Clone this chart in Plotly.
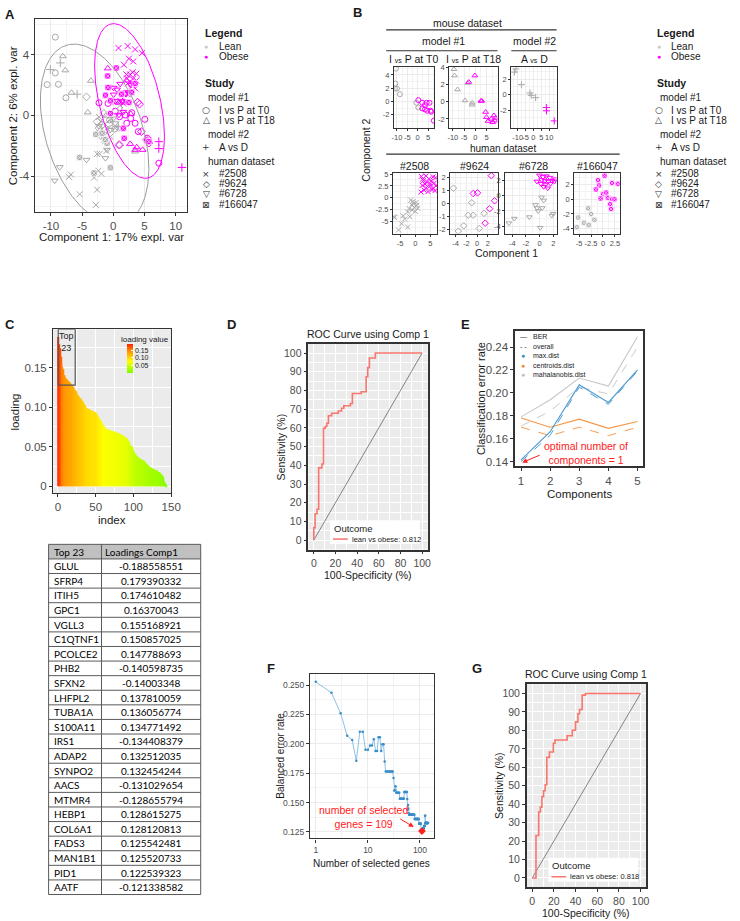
import numpy as np
import plotly.graph_objects as go

W, H = 740, 921
SANS = "Liberation Sans, Arial, sans-serif"
LATO = "Lato, Liberation Sans, sans-serif"
LEAN = "#A9A9A9"
OBESE = "#FF00FF"
INK = "#1A1A1A"
TICK = "#4D4D4D"
FRAME = "#333333"
ROC_RED = "#F8766D"
MIX_BLUE, MIX_ORANGE, MIX_GREY = "#388ECC", "#F68B33", "#C2C2C2"

# ---------------- A: sPLS-DA sample plot, all studies (x, y) ----------------
A_LEAN_T0 = [(-9.3, 5.16), (-10.6, 2.03), (-9.3, 2.8), (-8.8, 2.05), (-7.6, 1.16), (-0.6, -0.3), (0.2, -0.9)]
A_OBESE_T0 = [(-2.3, 0.83), (-0.84, 0.79), (-0.16, 0.94), (0.32, 0.28), (1.0, -0.09), (1.9, 0.02), (2.95, 0.18),
              (2.16, -0.52), (3.5, -0.52), (4.0, -1.07), (5.05, -0.26), (7.3, -3.15), (2.8, -0.2), (5.7, -1.62), (5.4, -1.5)]
A_LEAN_T18 = [(-8.1, 3.9), (-7.7, 2.97), (-6.7, 1.49), (-4.1, 0.2), (-3.6, 2.28), (3.5, -2.38), (-1.2, -0.02)]
A_OBESE_T18 = [(-0.9, 3.1), (0.9, 0.83), (2.8, 0.1), (2.7, -1.88), (3.5, -2.27), (4.7, -2.27), (1.5, 0.85), (3.75, -2.1), (2.1, 2.3)]
A_LEAN_AD = [(-10.1, 3.02), (-8.5, 3.46), (-5.8, 1.4), (1.37, 0.31), (0.8, -0.7)]
A_OBESE_AD = [(7.3, -1.73), (7.3, -2.19), (11.0, -3.43)]
A_LEAN_2508 = [(-2.6, -2.54), (-2.2, -2.54), (-2.4, -3.65), (-1.9, -3.85), (-3.1, -4.1), (-2.6, -4.9), (-5.4, -5.2),
               (-2.8, -5.9), (-6.8, -3.9), (-7.1, -4.05), (-1.1, -2.34), (-1.3, -1.7), (-0.47, -1.4), (-2.0, -0.4),
               (-1.0, -0.85), (0.3, -0.85), (-2.3, -0.1), (1.1, 0.67), (-0.5, -0.3), (-1.5, -1.6)]
A_OBESE_2508 = [(0.84, 4.44), (2.3, 4.57), (3.5, 4.35), (4.6, 4.1), (2.5, 3.74), (3.2, 3.56), (1.7, 3.34), (3.1, 2.84),
                (3.7, 2.75), (2.2, 2.43), (2.3, 2.1), (3.2, 2.1), (3.1, 1.95), (1.3, 1.49), (2.3, 1.4), (1.1, 0.96),
                (1.6, 0.79), (3.7, 2.3), (3.1, 2.4), (2.1, 2.7), (3.5, 1.78), (2.7, 2.7)]
A_LEAN_9624 = [(-4.3, 1.22), (-2.05, -1.07), (-1.5, 0.13), (0.84, -1.95), (-2.6, -0.41), (-1.8, -0.63), (-0.7, -0.57), (-2.3, -0.85)]
A_OBESE_9624 = [(3.9, 0.87), (4.2, 0.74), (5.3, -1.6), (5.7, -1.83), (1.0, -1.95), (4.5, -1.07)]
A_LEAN_6728 = [(-8.6, -3.41), (-9.4, -4.3), (-4.3, -2.93), (-1.26, -2.82), (-1.0, -2.27), (-2.05, -1.4), (-0.5, -0.96),
               (0.3, -0.52), (0.0, -0.2), (-1.5, -1.22), (1.1, -0.85), (-2.3, -0.7)]
A_OBESE_6728 = [(-0.74, 1.84), (0.05, 1.82), (2.05, 1.4), (0.32, 0.94), (0.9, 0.04), (1.4, 0.96), (1.9, 1.49), (2.2, 0.94),
                (3.1, 2.15), (2.8, 2.0), (3.3, 2.1), (1.1, 2.08), (0.6, 1.7), (2.4, 1.53), (1.6, 0.23), (0.05, 1.37)]
A_LEAN_166047 = [(-5.4, -2.77), (-3.1, -3.8), (-0.47, -3.45), (-2.8, -1.25), (-1.0, -1.84), (-1.3, -1.6), (-1.8, -1.18)]
A_OBESE_166047 = [(0.47, 3.13), (-0.9, 2.6), (-0.84, 1.84), (-1.26, 1.33), (-0.47, 0.13), (1.6, -0.85), (1.74, -1.51),
                  (2.5, 0.85), (5.3, -1.62), (5.7, -1.73), (1.3, 1.4), (3.5, 2.1), (-0.47, 0.96), (2.95, 1.53)]
# confidence ellipses: centre x, centre y, x half-range, y half-range, phase (deg)
A_ELLIPSE_LEAN = (-3.0, -1.25, 8.7, 5.95, 112.2)
A_ELLIPSE_OBESE = (2.6, 0.95, 5.6, 5.1, 117.0)

# ---------------- B: per-study sample plots ----------------
B_LEAN_T0 = [(-10.5, 4.96), (-10.8, 2.7), (-11.0, 1.95), (-10.0, 1.95), (-8.6, 1.1), (-0.6, -0.2), (0.3, -0.9)]
B_OBESE_T0 = [(0.3, 0.2), (2.2, -0.2), (3.5, -0.55), (4.3, -0.2), (5.7, -0.2), (2.2, -1.05), (3.5, -1.2), (4.6, -1.4),
              (6.2, -1.4), (6.5, -1.55), (7.8, -2.9)]
B_LEAN_T18 = [(-9.5, 3.8), (-9.25, 3.06), (-7.9, 1.43), (-4.6, 0.15), (-1.36, -0.12), (-1.5, -0.35), (-3.4, 2.2)]
B_OBESE_T18 = [(-0.2, 3.06), (-2.9, 2.3), (2.5, 0.1), (2.9, 0.1), (4.6, -1.2), (5.0, -1.8), (5.7, -2.25), (7.1, -2.0),
               (8.3, -1.6), (9.0, -1.9), (8.7, -2.2), (7.8, -2.4)]
B_LEAN_AD = [(-11.1, 3.3), (-12.0, 2.9), (-7.6, 1.28), (-2.2, 0.2), (-1.4, -0.1), (1.4, -0.4)]
B_OBESE_AD = [(8.2, -1.67), (8.3, -2.1), (13.2, -3.4)]
B_LEAN_2508 = [(-1.5, -0.5), (-0.8, -0.8), (0.3, -1.0), (-1.2, -1.5), (0.5, -1.6), (-0.3, -2.0), (-2.0, -2.3), (-1.0, -2.6),
               (0.0, -2.9), (-2.5, -3.0), (0.8, -2.2), (-3.5, -4.5), (-6.8, -4.2), (-7.0, -4.0), (-4.5, -5.5),
               (-2.5, -6.2), (-5.5, -6.8), (-1.8, -4.0), (-4.0, -3.8), (-0.5, -1.2)]
B_OBESE_2508 = [(2.0, 4.5), (3.5, 4.6), (4.5, 4.0), (5.9, 4.4), (6.7, 4.2), (2.7, 3.6), (4.0, 3.3), (5.2, 3.5), (6.3, 3.1),
                (2.3, 2.6), (3.6, 2.1), (4.8, 2.4), (6.0, 2.0), (6.8, 2.5), (2.9, 1.6), (4.2, 1.3), (5.5, 1.7), (1.9, 1.2),
                (3.2, 2.9), (5.0, 2.9), (6.5, 1.5), (2.4, 3.9)]
B_LEAN_9624 = [(-4.4, 1.15), (-1.0, 0.05), (-1.65, -0.9), (-0.73, -0.9), (1.28, -0.75), (-2.5, -1.7), (0.4, -1.9), (-3.5, -2.1)]
B_OBESE_9624 = [(2.64, 2.1), (-0.73, 0.75), (0.07, 0.8), (3.25, 0.2), (2.33, -0.4), (1.5, -1.5)]
B_LEAN_6728 = [(0.3, -0.2), (0.6, -0.6), (-0.6, -1.2), (-0.4, -1.6), (0.4, -1.6), (-0.2, -2.0), (2.0, -2.35), (1.8, -2.6),
               (-1.5, -2.8), (-3.7, -3.0), (-4.5, -3.6), (0.1, -4.2)]
B_OBESE_6728 = [(0.0, 2.7), (0.5, 2.5), (1.0, 2.6), (1.5, 2.4), (0.3, 2.1), (0.8, 2.0), (1.3, 1.9), (1.8, 2.0), (2.2, 1.9),
                (0.2, 1.6), (0.9, 1.5), (1.6, 1.6), (0.6, 1.2), (1.2, 1.0), (2.3, 2.2), (-0.4, 1.9)]
B_LEAN_166047 = [(-3.1, -1.24), (-5.2, -2.5), (-4.0, -3.2), (-2.5, -2.0), (-5.5, -3.8), (-3.0, -3.5), (-1.8, -2.8)]
B_OBESE_166047 = [(-1.04, 2.6), (0.34, 3.2), (-0.83, 1.87), (-1.5, 1.33), (0.0, 0.67), (0.67, 0.9), (1.9, 2.2), (3.1, 2.1),
                  (1.0, 0.2), (-0.5, 0.1), (1.9, 0.0), (2.4, 0.0), (1.5, -0.67), (1.7, -1.33)]

# ---------------- C / table: loadings on component 1 ----------------
GENES = ["GLUL", "SFRP4", "ITIH5", "GPC1", "VGLL3", "C1QTNF1", "PCOLCE2", "PHB2", "SFXN2", "LHFPL2", "TUBA1A",
         "S100A11", "IRS1", "ADAP2", "SYNPO2", "AACS", "MTMR4", "HEBP1", "COL6A1", "FADS3", "MAN1B1", "PID1", "AATF"]
LOADINGS = [-0.188558551, 0.179390332, 0.174610482, 0.16370043, 0.155168921, 0.150857025, 0.147788693, -0.140598735,
            -0.14003348, 0.137810059, 0.136056774, 0.134771492, -0.134408379, 0.132512035, 0.132454244, -0.131029654,
            -0.128655794, 0.128615275, 0.128120813, 0.125542481, 0.125520733, 0.122539323, -0.121338582]
C_TAIL = [0.120, 0.118, 0.116, 0.115, 0.113, 0.112, 0.111,
          0.110, 0.108, 0.107, 0.106, 0.104, 0.102, 0.100, 0.099,
          0.098, 0.098, 0.097, 0.097, 0.096, 0.096, 0.095, 0.095, 0.095, 0.094, 0.094, 0.093,
          0.092, 0.090, 0.088, 0.087, 0.085, 0.084,
          0.082, 0.080, 0.079, 0.077, 0.076, 0.074, 0.073,
          0.072, 0.072, 0.072, 0.071, 0.071, 0.071, 0.071, 0.070, 0.070, 0.070, 0.069,
          0.069, 0.068, 0.068, 0.068, 0.067, 0.067, 0.067, 0.066, 0.066,
          0.065, 0.065, 0.064, 0.063, 0.063, 0.062, 0.061, 0.061,
          0.060, 0.058, 0.056, 0.054, 0.052, 0.051, 0.050, 0.049,
          0.046, 0.043, 0.041, 0.040, 0.039, 0.038, 0.037, 0.036, 0.035, 0.035, 0.034,
          0.034, 0.033, 0.033, 0.032, 0.031, 0.030, 0.029, 0.028, 0.027, 0.026, 0.025,
          0.024, 0.024, 0.023, 0.023, 0.022, 0.022, 0.021, 0.021, 0.020, 0.020,
          0.019, 0.018, 0.018, 0.017, 0.016, 0.015,
          0.014, 0.012, 0.009, 0.006, 0.004, 0.002]
TOP_N = 23

# ---------------- D / G: ROC curves (100-specificity, sensitivity) ----------------
D_FPR = [0, 0, 1.2, 3.0, 4.5, 7.5, 9.0, 10.5, 12.0, 13.5, 16.5, 22.6, 25.6, 27.7, 33.8, 35.6, 43.8, 48.3, 49.8, 51.3, 56.8, 100]
D_TPR = [0, 6.7, 14.1, 16.5, 38.6, 40.7, 59.8, 60.7, 62.5, 66.5, 67.8, 69.0, 70.5, 71.8, 73.0, 78.4, 79.3, 87.3, 92.2, 97.3, 100, 100]
D_AUC = 0.812
G_FPR = [0, 3.5, 6.0, 7.5, 9.0, 10.5, 12.0, 13.5, 15.9, 19.5, 21.0, 32.2, 37.0, 40.0, 42.2, 43.7, 46.1, 49.1, 100]
G_TPR = [0, 23.0, 35.8, 38.4, 44.1, 47.3, 50.5, 65.4, 68.3, 73.0, 74.8, 77.1, 80.1, 84.6, 89.0, 91.3, 99.1, 100, 100]
G_AUC = 0.818

# ---------------- E: classification error rate per component ----------------
E_COMP = [1, 2, 3, 4, 5]
E_MAX_BER = [0.1415, 0.166, 0.207, 0.1916, 0.220]
E_MAX_OVERALL = [0.140, 0.163, 0.205, 0.190, 0.219]
E_CEN_BER = [0.178, 0.170, 0.177, 0.169, 0.175]
E_CEN_OVERALL = [0.170, 0.1626, 0.170, 0.1626, 0.170]
E_MAH_BER = [0.179, 0.194, 0.213, 0.206, 0.249]
E_MAH_OVERALL = [0.171, 0.184, 0.205, 0.199, 0.240]

# ---------------- F: balanced error rate vs number of selected genes ----------------
F_BER = [0.2528, 0.2435, 0.226, 0.207, 0.2034, 0.1856, 0.2104, 0.2104, 0.195, 0.195,
         0.1986, 0.1986, 0.204, 0.194, 0.194, 0.2057, 0.2057, 0.194, 0.1997, 0.1997,
         0.185, 0.1765, 0.1765, 0.1765, 0.1765, 0.1765, 0.1765, 0.1765, 0.1765, 0.1765,
         0.171, 0.1604, 0.1604, 0.164, 0.1584, 0.1584, 0.1584, 0.1584, 0.1584, 0.1584,
         0.1532, 0.1532, 0.1532, 0.1532, 0.1532, 0.1532, 0.1532, 0.1532, 0.1532,
         0.159, 0.159, 0.159, 0.159, 0.159, 0.159, 0.159,
         0.153, 0.1438, 0.148, 0.145, 0.141,
         0.1397, 0.1397, 0.1397, 0.1397, 0.1397, 0.1397, 0.1397, 0.1397, 0.1397, 0.1397,
         0.1397, 0.1397, 0.1397, 0.1397, 0.1397, 0.1397, 0.1397,
         0.136, 0.136, 0.136, 0.136, 0.136, 0.136, 0.136, 0.136, 0.136, 0.136,
         0.136, 0.136, 0.136, 0.136, 0.136, 0.136, 0.136,
         0.132, 0.132, 0.132, 0.132, 0.132, 0.132, 0.132, 0.132, 0.132,
         0.1266, 0.1266, 0.1264, 0.1262, 0.1258, 0.1262, 0.1264, 0.1266,
         0.128, 0.128, 0.128, 0.128, 0.128, 0.128,
         0.130, 0.130, 0.130, 0.130, 0.130, 0.130,
         0.1388, 0.1388,
         0.1326, 0.1326, 0.1326, 0.1326, 0.1326, 0.1326, 0.1326, 0.1326, 0.1326, 0.1326,
         0.1326, 0.1326, 0.1326, 0.1326, 0.1326, 0.1326, 0.1326]
F_KEEPX = list(range(1, len(F_BER) + 1))

# tick labels
C_YTICKS, C_YLABELS = [0, 0.05, 0.10, 0.15], ["0", "0.05", "0.10", "0.15"]
E_YTICKS, E_YLABELS = [0.14, 0.16, 0.18, 0.20, 0.22, 0.24], ["0.14", "0.16", "0.18", "0.20", "0.22", "0.24"]
F_YTICKS = [0.125, 0.150, 0.175, 0.200, 0.225, 0.250]
F_YLABELS = ["0.125", "0.150", "0.175", "0.200", "0.225", "0.250"]

fig = go.Figure()
axes = {}
shapes = []
annotations = []


def label(v):
    return str(int(v)) if float(v).is_integer() else f"{v:g}"


def mids(vals, log=False):
    v = np.log10(vals) if log else np.asarray(vals, float)
    step = v[1] - v[0]
    m = np.concatenate([[v[0] - step / 2], (v[:-1] + v[1:]) / 2, [v[-1] + step / 2]])
    return list(10 ** m) if log else list(m)


def add_axes(n, box, xr, yr, xt, yt, size, style, xl=None, yl=None, xlog=False, frame=1.0, ticklen=3):
    left, top, right, bottom = box
    s = "" if n == 1 else str(n)
    common = dict(showline=True, mirror=True, linecolor=FRAME, linewidth=frame, ticks="outside", ticklen=ticklen,
                  tickwidth=0.8, tickcolor=FRAME, tickfont=dict(size=size, color=TICK, family=SANS),
                  zeroline=False, tickmode="array", tickangle=0)
    xa = dict(common, domain=[left / W, right / W], range=xr, anchor="y" + s, tickvals=xt,
              ticktext=xl or [label(v) for v in xt], type="log" if xlog else "linear")
    ya = dict(common, domain=[1 - bottom / H, 1 - top / H], range=yr, anchor="x" + s, tickvals=yt,
              ticktext=yl or [label(v) for v in yt])
    if style == "none":
        xa["showgrid"] = ya["showgrid"] = False
    else:
        gc, gw, mc, mw = ("#EBEBEB", 0.8, "#F3F3F3", 0.5) if style == "bw" else ("#FFFFFF", 1.0, "#FFFFFF", 0.45)
        for a, t, lg in ((xa, xt, xlog), (ya, yt, False)):
            a.update(showgrid=True, gridcolor=gc, gridwidth=gw,
                     minor=dict(tickvals=mids(t, lg), showgrid=True, gridcolor=mc, gridwidth=mw, ticks=""))
    if style == "gray":
        shapes.append(dict(type="rect", xref="x" + s + " domain", yref="y" + s + " domain", x0=0, x1=1, y0=0, y1=1,
                           fillcolor="#EBEBEB", line_width=0, layer="below"))
    axes["xaxis" + s] = xa
    axes["yaxis" + s] = ya
    return "x" + s, "y" + s


def note(x, y, text, size=10, color=INK, xanchor="center", angle=0, family=SANS):
    annotations.append(dict(x=x / W, y=1 - y / H, xref="paper", yref="paper", text=text, showarrow=False,
                            xanchor=xanchor, yanchor="middle", textangle=angle,
                            font=dict(family=family, size=size, color=color)))


def seg(x0, y0, x1, y1, color=FRAME, width=1.2):
    shapes.append(dict(type="line", xref="paper", yref="paper", x0=x0 / W, x1=x1 / W, y0=1 - y0 / H, y1=1 - y1 / H,
                       line=dict(color=color, width=width)))


def marker(sym, color, size):
    if sym == "square-x":
        return dict(symbol=sym, size=size, color=color, line=dict(color="white", width=0.7))
    return dict(symbol=sym, size=size, color=color, line=dict(color=color, width=1))


def points(pts, sym, color, size, xa, ya):
    fig.add_trace(go.Scatter(x=[p[0] for p in pts], y=[p[1] for p in pts], mode="markers",
                             marker=marker(sym, color, size), xaxis=xa, yaxis=ya, showlegend=False))


SYMS = ["circle-open", "triangle-up-open", "cross-thin-open", "x-thin-open", "diamond-open", "triangle-down-open", "square-x"]

# ---------- panel A ----------
xa, ya = add_axes(1, (34, 15, 188, 209), [-12.48, 11.85], [-6.36, 6.36], [-10, -5, 0, 5, 10], [-4, 0, 4], 11.5, "bw")
A_GROUPS = [(A_LEAN_T0, A_OBESE_T0), (A_LEAN_T18, A_OBESE_T18), (A_LEAN_AD, A_OBESE_AD), (A_LEAN_2508, A_OBESE_2508),
            (A_LEAN_9624, A_OBESE_9624), (A_LEAN_6728, A_OBESE_6728), (A_LEAN_166047, A_OBESE_166047)]
for (lean, obese), sym in zip(A_GROUPS, SYMS):
    points(lean, sym, LEAN, 6, xa, ya)
    points(obese, sym, OBESE, 6, xa, ya)
for (cx, cy, rx, ry, ph), col in ((A_ELLIPSE_LEAN, "#9A9A9A"), (A_ELLIPSE_OBESE, OBESE)):
    t = np.linspace(0, 2 * np.pi, 240)
    fig.add_trace(go.Scatter(x=cx + rx * np.cos(t), y=cy + ry * np.cos(t - np.radians(ph)), mode="lines",
                             line=dict(color=col, width=1), xaxis=xa, yaxis=ya, showlegend=False))
note(12, 112, "Component 2: 6% expl. var", 11.5, angle=-90)
note(111, 234, "Component 1: 17% expl. var", 11.5)

# ---------- panel B ----------
B_PANELS = [
    ((398, 63, 439, 125), [-11.4, 8.1], [-4.06, 5.26], [-10, -5, 0, 5], [-2, 0, 2, 4], B_LEAN_T0, B_OBESE_T0, SYMS[0]),
    ((454, 63, 503, 125), [-11.6, 9.9], [-3.1, 4.1], [-10, -5, 0, 5], [-2, 0, 2, 4], B_LEAN_T18, B_OBESE_T18, SYMS[1]),
    ((517, 63, 563, 125), [-14, 14.7], [-4.36, 3.6], [-10, -5, 0, 5, 10], [-2, 0, 2], B_LEAN_AD, B_OBESE_AD, SYMS[2]),
    ((397, 170, 442, 231), [-7.3, 7.3], [-7.6, 5.2], [-5, 0, 5], [-5, -2.5, 0, 2.5, 5], B_LEAN_2508, B_OBESE_2508, SYMS[3]),
    ((455, 170, 503, 231), [-5, 3.8], [-2.3, 2.3], [-4, -2, 0, 2], [-2, -1, 0, 1, 2], B_LEAN_9624, B_OBESE_9624, SYMS[4]),
    ((511, 170, 563, 231), [-5, 2.5], [-5.0, 3.0], [-4, -2, 0, 2], [-4, -2, 0, 2], B_LEAN_6728, B_OBESE_6728, SYMS[5]),
    ((581, 170, 627, 231), [-6, 3.5], [-4.7, 3.56], [-5, -2.5, 0, 2.5], [-4, -2, 0, 2], B_LEAN_166047, B_OBESE_166047, SYMS[6]),
]
for i, (box, xr, yr, xt, yt, lean, obese, sym) in enumerate(B_PANELS):
    xa, ya = add_axes(2 + i, box, xr, yr, xt, yt, 7.5, "bw", frame=1.3, ticklen=2)
    points(lean, sym, LEAN, 5, xa, ya)
    points(obese, sym, OBESE, 5, xa, ya)

VS = "<span style='font-size:7px'>vs</span>"
note(473, 19, "mouse dataset", 10.5)
note(448, 37, "model #1", 10.5)
note(541, 37, "model #2", 10.5)
note(418, 55, f"I {VS} P at T0", 10.5)
note(479, 55, f"I {VS} P at T18", 10.5)
note(541, 55, f"A {VS} D", 10.5)
note(509, 145, "human dataset", 10)
for xc, t in ((419, "#2508"), (480, "#9624"), (540, "#6728"), (604, "#166047")):
    note(xc, 163, t, 10.5)
seg(390, 26, 563, 26)
seg(390, 47, 503, 47)
seg(517, 47, 563, 47)
seg(390, 151, 627, 151)
note(370, 147, "Component 2", 10.5, angle=-90)
note(512, 250, "Component 1", 10.5)

# legends for A and B
LEG_ROWS = [("title", None, "Legend"), ("class", LEAN, "Lean"), ("class", OBESE, "Obese"), ("title", None, "Study"),
            ("sub", None, "model #1"), ("item", "○", "I vs P at T0"), ("item", "△", "I vs P at T18"),
            ("sub", None, "model #2"), ("item", "+", "A vs D"), ("sub", None, "human dataset"),
            ("item", "×", "#2508"), ("item", "◇", "#9624"), ("item", "▽", "#6728"), ("item", "⊠", "#166047")]
LEG_Y = [29, 43, 53, 79, 94, 107, 117, 131, 144, 158, 170.5, 180.5, 191, 202]
for x0 in (205, 664):
    for (kind, sym, txt), y in zip(LEG_ROWS, LEG_Y):
        if kind == "title":
            note(x0 - 1, y, f"<b>{txt}</b>", 10.5, xanchor="left")
        elif kind == "sub":
            note(x0 + 2, y, txt, 10, xanchor="left")
        else:
            if kind == "class":
                note(x0 + 2.5, y, "●", 7, color=sym if sym == OBESE else "#C8C8C8")
            else:
                note(x0 + 2.5, y, sym, 9, color="#333333", family="DejaVu Sans")
            note(x0 + 13, y, txt, 10, xanchor="left")

# ---------- panel C ----------
c_vals = [abs(v) for v in LOADINGS] + C_TAIL
c_idx = list(range(1, len(c_vals) + 1))
xa, ya = add_axes(9, (52, 327, 172, 492), [-6.1, 150.3], [-0.0088, 0.1985], [0, 50, 100, 150], C_YTICKS, 11.5, "gray",
                  yl=C_YLABELS, frame=1.3)
fig.add_trace(go.Bar(x=c_idx, y=c_vals, width=1, xaxis=xa, yaxis=ya, showlegend=False,
                     marker=dict(color=c_vals, cmin=0, cmax=0.19, line_width=0,
                                 colorscale=[[0, "#7CFC00"], [0.25, "#CCFF00"], [0.4, "#FFFF00"], [0.6, "#FFC000"],
                                             [0.8, "#FF8000"], [1, "#FF2000"]],
                                 showscale=True,
                                 colorbar=dict(x=127 / W, xanchor="left", y=1 - 356.5 / H, yanchor="middle",
                                               len=28.5, lenmode="pixels", thickness=6, thicknessmode="pixels",
                                               xpad=0, ypad=0, outlinewidth=0, tickmode="array",
                                               tickvals=[0.05, 0.10, 0.15], ticktext=["0.05", "0.10", "0.15"],
                                               ticks="inside", ticklen=2, tickcolor="white",
                                               tickfont=dict(size=7, color=INK, family=SANS)))))
note(145, 337, "loading value", 8)
shapes.append(dict(type="rect", xref=xa, yref=ya, x0=0.5, x1=TOP_N, y0=0.128, y1=0.1985,
                   line=dict(color="#555555", width=1.2)))
annotations.append(dict(x=12, y=0.182, xref=xa, yref=ya, text=f"Top<br>{TOP_N}", showarrow=False,
                        font=dict(size=9, color=INK, family=SANS)))
note(13, 410, "loading", 11.5, angle=-90)
note(112, 519, "index", 11.5)

# ---------- table (drawn as a grid of rules and texts) ----------
T_LEFT, T_MID, T_RIGHT, T_TOP, T_ROW = 47.3, 101, 201.7, 543.3, 14.67
n_rows = len(GENES) + 1
T_BOTTOM = T_TOP + n_rows * T_ROW
shapes.append(dict(type="rect", xref="paper", yref="paper", x0=T_LEFT / W, x1=T_RIGHT / W, y0=1 - (T_TOP + T_ROW) / H,
                   y1=1 - T_TOP / H, fillcolor="#C0C0C0", line_width=0, layer="below"))
for k in range(n_rows + 1):
    seg(T_LEFT, T_TOP + k * T_ROW, T_RIGHT, T_TOP + k * T_ROW, color="#5A5A5A", width=1)
for xv in (T_LEFT, T_MID, T_RIGHT):
    seg(xv, T_TOP, xv, T_BOTTOM, color="#5A5A5A", width=1)
note(T_LEFT + 3, T_TOP + T_ROW / 2, f"Top {TOP_N}", 10, color="black", xanchor="left", family=LATO)
note(T_MID + 1.5, T_TOP + T_ROW / 2, "Loadings Comp1", 10, color="black", xanchor="left", family=LATO)
for k, (g, v) in enumerate(zip(GENES, LOADINGS), start=1):
    yc = T_TOP + (k + 0.5) * T_ROW
    note(T_LEFT + 3, yc, g, 10, color="black", xanchor="left", family=LATO)
    note((T_MID + T_RIGHT) / 2, yc, str(v), 10, color="black", family=LATO)


# ---------- ROC panels D and G ----------
def roc_panel(n, box, fpr, tpr, auc, tag, tag_xy):
    left, top, right, bottom = box
    xa, ya = add_axes(n, box, [-5, 105], [-5, 105], [0, 20, 40, 60, 80, 100], list(range(0, 101, 10)), 10.5, "gray",
                      frame=1.5)
    fig.add_trace(go.Scatter(x=[0, 100], y=[0, 100], mode="lines", line=dict(color="#555555", width=0.7),
                             xaxis=xa, yaxis=ya, showlegend=False))
    fig.add_trace(go.Scatter(x=fpr, y=tpr, mode="lines", line=dict(color=ROC_RED, width=1.6, shape="hv"),
                             xaxis=xa, yaxis=ya, showlegend=False))
    cx = (left + right) / 2
    note(cx, top - 10, "ROC Curve using Comp 1", 10.5)
    note(left - 28, (top + bottom) / 2, "Sensitivity (%)", 10.5, angle=-90)
    note(cx, bottom + 26, "100-Specificity (%)", 10.5)
    lx, ly = left + 22, bottom - 29.5
    shapes.append(dict(type="rect", xref="paper", yref="paper", x0=lx / W, x1=(lx + 91) / W, y0=1 - (ly + 24) / H,
                       y1=1 - ly / H, fillcolor="white", line_width=0))
    note(lx + 2, ly + 8, "Outcome", 9.5, xanchor="left")
    seg(lx + 3, ly + 19, lx + 18, ly + 19, color=ROC_RED, width=1.5)
    note(lx + 20, ly + 19, f"lean vs obese: {auc}", 7.5, xanchor="left")
    note(tag_xy[0], tag_xy[1], f"<b>{tag}</b>", 13)


roc_panel(10, (311, 341.5, 432, 548.5), D_FPR, D_TPR, D_AUC, "D", (233, 322))
roc_panel(13, (532.7, 684, 653.7, 888), G_FPR, G_TPR, G_AUC, "G", (482, 668))

# ---------- panel E ----------
xa, ya = add_axes(11, (521, 328.4, 651, 464.6), [0.8, 5.2], [0.136, 0.2544], E_COMP, E_YTICKS, 11.5, "none",
                  yl=E_YLABELS, frame=1.6)
for ber, ovr, col in ((E_MAH_BER, E_MAH_OVERALL, MIX_GREY), (E_CEN_BER, E_CEN_OVERALL, MIX_ORANGE),
                      (E_MAX_BER, E_MAX_OVERALL, MIX_BLUE)):
    fig.add_trace(go.Scatter(x=E_COMP, y=ovr, mode="lines", line=dict(color=col, width=1, dash="dash"),
                             opacity=0.85, xaxis=xa, yaxis=ya, showlegend=False))
    fig.add_trace(go.Scatter(x=E_COMP, y=ber, mode="lines", line=dict(color=col, width=1.1),
                             opacity=0.9, xaxis=xa, yaxis=ya, showlegend=False))
E_LEG = [("—", "BER", "#333333"), ("- -", "overall", "#333333"), ("●", "max.dist", MIX_BLUE),
         ("●", "centroids.dist", MIX_ORANGE), ("●", "mahalanobis.dist", MIX_GREY)]
for (sym, txt, col), y in zip(E_LEG, [334.5, 344, 353.5, 363, 372.5]):
    note(529, y, sym, 7, color=col)
    note(537, y, txt, 7, xanchor="left")
note(548, 451, "optimal number of<br>components = 1", 10.5, color="#FF2020", xanchor="left")
annotations.append(dict(x=1.04, y=0.1391, xref=xa, yref=ya, text="", showarrow=True, ax=19, ay=-8,
                        arrowcolor="#FF2020", arrowhead=2, arrowsize=1, arrowwidth=1))
note(487, 396.5, "Classification error rate", 11, angle=-90)
note(586, 493, "Components", 11.5)
note(8.5, 322, "<b>C</b>", 13)
note(470, 322, "<b>E</b>", 13)

# ---------- panel F ----------
xa, ya = add_axes(12, (312.7, 674, 438.3, 839), [-0.11, 2.265], [0.1195, 0.2592], [1, 10, 100], F_YTICKS, 8.5, "bw",
                  xl=["1", "10", "100"], yl=F_YLABELS, xlog=True, frame=1.3)
fig.add_trace(go.Scatter(x=F_KEEPX, y=F_BER, mode="lines+markers", line=dict(color="#8DBFE6", width=1),
                         marker=dict(color=MIX_BLUE, size=2.5), xaxis=xa, yaxis=ya, showlegend=False))
best = int(np.argmin(F_BER))
fig.add_trace(go.Scatter(x=[F_KEEPX[best]], y=[F_BER[best]], mode="markers",
                         marker=dict(color="#FF2020", size=6, symbol="diamond"), xaxis=xa, yaxis=ya, showlegend=False))
note(320, 817.5, f"number of selected<br>genes = {F_KEEPX[best]}", 10.5, color="#FF2020", xanchor="left")
annotations.append(dict(x=np.log10(76), y=0.1292, xref=xa, yref=ya, text="", showarrow=True, ax=-15, ay=-9,
                        arrowcolor="#FF2020", arrowhead=2, arrowsize=1, arrowwidth=1))
note(283, 756, "Balanced error rate", 10, angle=-90)
note(375.5, 864, "Number of selected genes", 10)
note(273.5, 668, "<b>F</b>", 13)

note(8.5, 10.5, "<b>A</b>", 13)
note(360.5, 9, "<b>B</b>", 13)

fig.update_layout(width=W, height=H, margin=dict(l=0, r=0, t=0, b=0), paper_bgcolor="white", plot_bgcolor="white",
                  showlegend=False, font=dict(family=SANS, color=INK), shapes=shapes, annotations=annotations, **axes)
fig.write_html("out.html", config={"displayModeBar": False},
               post_script="document.body.style.margin='0';document.body.style.padding='0';"
                           "document.body.style.overflow='hidden';")
